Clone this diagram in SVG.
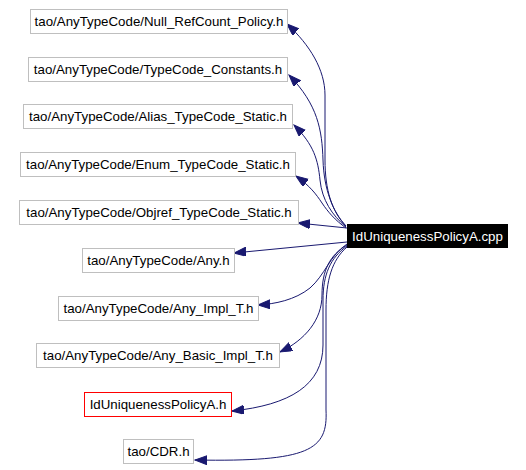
<svg xmlns="http://www.w3.org/2000/svg" width="526" height="470" viewBox="0 0 526 470">
<style>
.n rect{fill:#fff;stroke:#bfbfbf;stroke-width:1}
.n text{font-family:"Liberation Sans",Arial,sans-serif;font-size:13.3px;fill:#000;text-anchor:middle}
#red rect{stroke:#ff0000}
#main rect{fill:#000;stroke:#000}
#main text{fill:#fff}
.e path{fill:none;stroke:#191970;stroke-width:1}
</style>
<defs>
<marker id="ah" markerUnits="userSpaceOnUse" markerWidth="14" markerHeight="10" refX="12" refY="4.5" orient="auto">
<path d="M0,0 L12,4.5 L0,9 z" fill="#191970" stroke="#191970" stroke-width="1"/>
</marker>
</defs>
<rect width="526" height="470" fill="#fff"/>
<g class="e" id="edges">
<path marker-end="url(#ah)" d="M346,226 C332,212 325,190 325,160 L325,95 C325,70 310,45 287,24"/>
<path marker-end="url(#ah)" d="M346,226 C333,212 324,190 323,160 C322,130 318,105 289,75"/>
<path marker-end="url(#ah)" d="M346,227 C332,215 322,200 320,180 C318,160 314,145 294,125"/>
<path marker-end="url(#ah)" d="M346,228 C335,220 328,212 322,203 C316,194 310,186 296,176"/>
<path marker-end="url(#ah)" d="M347,228 L298,223"/>
<path marker-end="url(#ah)" d="M347,242 L234,253"/>
<path marker-end="url(#ah)" d="M347,244 C330,255 325,275 310,288 C295,300 275,304 258,305"/>
<path marker-end="url(#ah)" d="M347,245 C330,255 322,270 322,295 C322,320 305,340 280,352"/>
<path marker-end="url(#ah)" d="M347,246 C330,258 323,275 323,300 L323,345 C323,385 290,405 232,411"/>
<path marker-end="url(#ah)" d="M347,247 C332,260 326,280 326,310 L326,410 C328,450 310,462 195,460"/>
</g>
<g class="n" id="n1"><rect x="30.5" y="9.5" width="257" height="24"/><text x="159" y="26">tao/AnyTypeCode/Null_RefCount_Policy.h</text></g>
<g class="n" id="n2"><rect x="28.5" y="57.5" width="259" height="24"/><text x="158" y="74">tao/AnyTypeCode/TypeCode_Constants.h</text></g>
<g class="n" id="n3"><rect x="23.5" y="104.5" width="269" height="24"/><text x="158" y="121">tao/AnyTypeCode/Alias_TypeCode_Static.h</text></g>
<g class="n" id="n4"><rect x="20.5" y="152.5" width="275" height="24"/><text x="158" y="169">tao/AnyTypeCode/Enum_TypeCode_Static.h</text></g>
<g class="n" id="n5"><rect x="19.5" y="200.5" width="279" height="24"/><text x="159" y="217">tao/AnyTypeCode/Objref_TypeCode_Static.h</text></g>
<g class="n" id="n6"><rect x="82.5" y="248.5" width="152" height="24"/><text x="158.5" y="265">tao/AnyTypeCode/Any.h</text></g>
<g class="n" id="n7"><rect x="58.5" y="296.5" width="200" height="24"/><text x="158.5" y="313">tao/AnyTypeCode/Any_Impl_T.h</text></g>
<g class="n" id="n8"><rect x="36.5" y="343.5" width="243" height="24"/><text x="158" y="360">tao/AnyTypeCode/Any_Basic_Impl_T.h</text></g>
<g class="n" id="red"><rect x="84.5" y="392.5" width="147" height="24"/><text x="158" y="409">IdUniquenessPolicyA.h</text></g>
<g class="n" id="n10"><rect x="123.5" y="439.5" width="70" height="24"/><text x="158.5" y="456">tao/CDR.h</text></g>
<g class="n" id="main"><rect x="347.5" y="224.5" width="160" height="23"/><text x="427.5" y="241">IdUniquenessPolicyA.cpp</text></g>
</svg>
